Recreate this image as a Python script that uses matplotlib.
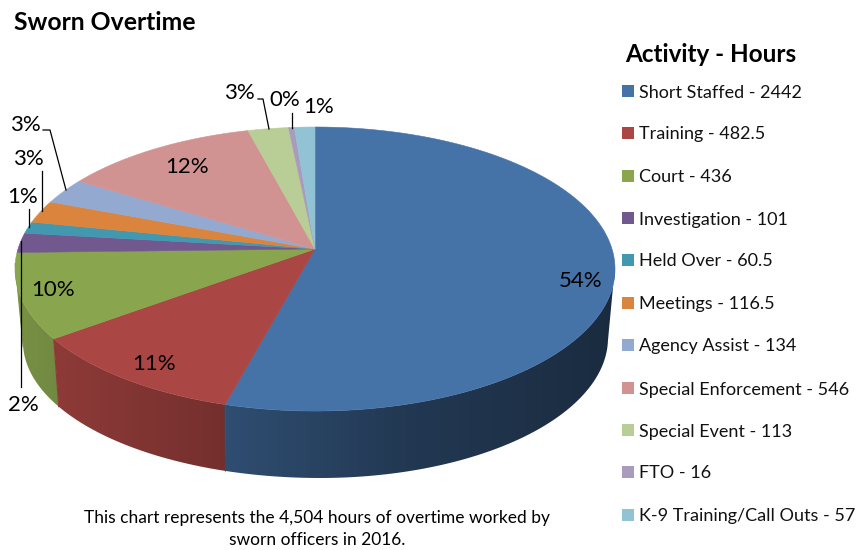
import matplotlib.pyplot as plt
import matplotlib.colors as mcolors
import numpy as np

activities = ["Short Staffed", "Training", "Court", "Investigation", "Held Over", "Meetings",
              "Agency Assist", "Special Enforcement", "Special Event", "FTO", "K-9 Training/Call Outs"]
hours = [2442, 482.5, 436, 101, 60.5, 116.5, 134, 546, 113, 16, 57]
colors = ["#4572A7", "#AA4643", "#89A54E", "#71588F", "#4198AF", "#DB843D",
          "#93A9CF", "#D19392", "#B9CD96", "#A99BBD", "#92C3D5"]

# label centre for each slice, and the leader line if it has one
label_pos = [(581, 281), (154, 364), (53, 290), (23, 405), (23, 197), (28, 159),
             (25, 125), (187, 167), (239, 93), (285, 100), (319, 107)]
leaders = {3: [(21, 241), (21, 387)], 4: [(29, 209), (29, 227)], 5: [(42, 171), (42, 211)],
           6: [(43, 130), (50, 130), (66, 190)], 8: [(258, 99), (263, 99), (269, 129)],
           9: [(292, 113), (292, 128)]}
legend_y = [91, 133, 176, 218, 260, 303, 345, 388, 430, 472, 515]

plt.rcParams["font.family"] = ["Lato", "DejaVu Sans"]

CX, APEX_Y = 315, 249
R, A, K = 297, 139.2, 0.141


def top_point(deg):
    # clockwise from 12 o'clock, with the perspective of the tilted disc
    t = np.radians(deg)
    u, v = np.sin(t), np.cos(t)
    w = 1 + K * v
    return CX + R * u / w, APEX_Y - A * v / w


def bottom_point(x):
    # lower rim: two half ellipses that meet at the lowest point
    bx = CX + np.interp(x - CX, [-300, -262, -88.4, 0, 300], [-292, -257, -88, 3, 293])
    if bx < 320:
        s = (bx - 320) / 297
        return bx, 342 + 136 * np.sqrt(max(1 - s ** 2, 0))
    s = (bx - 320) / 288
    return bx, 338 + 140 * np.sqrt(max(1 - s ** 2, 0))


fig = plt.figure(figsize=(8.57, 5.5), dpi=100)
ax = fig.add_axes([0, 0, 1, 1])

total = sum(hours)
edges = np.concatenate([[0], np.cumsum(hours)]) / total * 360

# side wall, only the front part shows; shaded from left to right
shade_x = np.arange(857)
shade = np.interp(shade_x, [15, 58, 226, 400, 615], [0.88, 0.83, 0.68, 0.5, 0.38])
for i, color in enumerate(colors):
    start, end = max(edges[i], 97), min(edges[i + 1], 264)
    if end <= start:
        continue
    angles = np.linspace(start, end, int(end - start) + 2)
    rim = [top_point(a) for a in angles]
    low = [bottom_point(p[0]) for p in rim]
    poly = plt.Polygon(rim + low[::-1], closed=True, transform=ax.transData, facecolor="none", edgecolor="none")
    ax.add_patch(poly)
    grad = np.outer(shade, mcolors.to_rgb(color))[np.newaxis, :, :]
    im = ax.imshow(grad, extent=(0, 857, 550, 0), aspect="auto", interpolation="bilinear", zorder=2)
    im.set_clip_path(poly)
    # cover the hairline between two slices
    seam = shade[int(rim[-1][0])] * np.array(mcolors.to_rgb(color))
    ax.plot([rim[-1][0], low[-1][0]], [rim[-1][1], low[-1][1]], color=seam, lw=0.8, zorder=2.5)

ax.set_xlim(0, 857)
ax.set_ylim(550, 0)
ax.axis("off")

# top surface
for i, color in enumerate(colors):
    angles = np.linspace(edges[i], edges[i + 1], max(int(edges[i + 1] - edges[i]) * 2, 2) + 1)
    pts = [top_point(a) for a in angles]
    xs = [CX] + [p[0] for p in pts]
    ys = [APEX_Y] + [p[1] for p in pts]
    ax.fill(xs, ys, facecolor=color, edgecolor=color, lw=0.4, zorder=3)

for i, (x, y) in enumerate(label_pos):
    ax.text(x, y, f"{hours[i] / total * 100:.0f}%", fontsize=16, color="black",
            ha="center", va="center", zorder=5)

for pts in leaders.values():
    ax.plot([p[0] for p in pts], [p[1] for p in pts], color="black", lw=0.9, zorder=4)

ax.text(14, 22, "Sworn Overtime", fontsize=17.8, fontweight="bold", va="center")
ax.text(625, 54, "Activity - Hours", fontsize=17.5, fontweight="bold", va="center")

for name, h, color, y in zip(activities, hours, colors, legend_y):
    ax.add_patch(plt.Rectangle((622, y - 6), 12, 12, facecolor=color, edgecolor="none"))
    ax.text(639, y + 1.5, f"{name} - {h:g}", fontsize=13, color="#111111", va="center")

ax.text(317, 518, "This chart represents the 4,504 hours of overtime worked by", fontsize=12.5,
        ha="center", va="center")
ax.text(317, 540, "sworn officers in 2016.", fontsize=12.5, ha="center", va="center")

plt.savefig("out.png", dpi=100)
plt.close()
